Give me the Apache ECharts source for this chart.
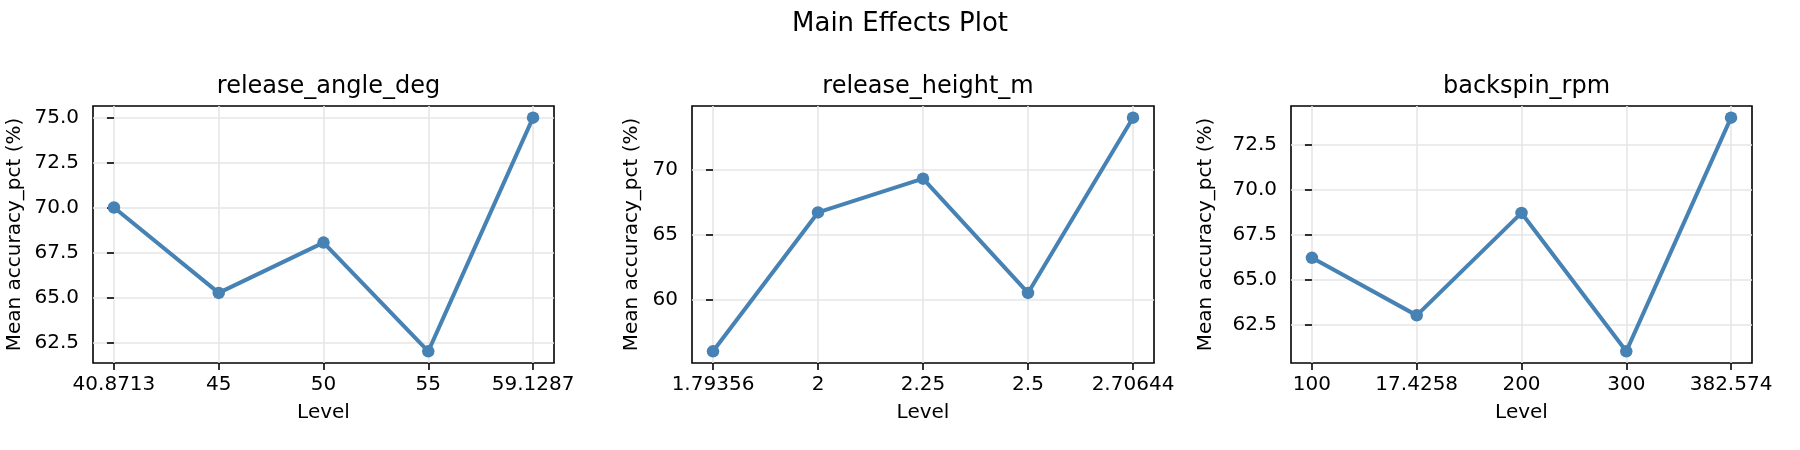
<!DOCTYPE html>
<html>
<head>
<meta charset="utf-8">
<script src="https://cdn.jsdelivr.net/npm/echarts@6/dist/echarts.min.js"></script>
<style>
html,body{margin:0;padding:0;background:#fff;}
#chart{width:1800px;height:450px;}
</style>
</head>
<body>
<div id="chart"></div>
<script>
// ---- data ----
const suptitle = 'Main Effects Plot';
const factorNames = ['release_angle_deg', 'release_height_m', 'backspin_rpm'];
const angleLevels = ['40.8713', '45', '50', '55', '59.1287'];
const angleMeans = [70.0, 65.25, 68.05, 62.0, 75.0];
const heightLevels = ['1.79356', '2', '2.25', '2.5', '2.70644'];
const heightMeans = [56.0, 66.7, 69.3, 60.5, 74.0];
const spinLevels = ['100', '17.4258', '200', '300', '382.574'];
const spinMeans = [66.2, 63.0, 68.7, 61.0, 74.0];
const angleYTicks = [62.5, 65.0, 67.5, 70.0, 72.5, 75.0];
const heightYTicks = [60, 65, 70];
const spinYTicks = [62.5, 65.0, 67.5, 70.0, 72.5];
const yLabel = 'Mean accuracy_pct (%)';
const xLabel = 'Level';

// ---- layout ----
const FONT = 'DejaVu Sans';
const panels = [
  {name: factorNames[0], levels: angleLevels, means: angleMeans, yTicks: angleYTicks, decimals: 1, left: 93, width: 461, nameGap: 68},
  {name: factorNames[1], levels: heightLevels, means: heightMeans, yTicks: heightYTicks, decimals: 0, left: 692, width: 462, nameGap: 50},
  {name: factorNames[2], levels: spinLevels, means: spinMeans, yTicks: spinYTicks, decimals: 1, left: 1291, width: 461, nameGap: 75}
];
const TOP = 106, HEIGHT = 257;

const option = {
  animation: false,
  backgroundColor: '#fff',
  textStyle: {fontFamily: FONT},
  title: [{
    text: suptitle, left: 'center', top: 6,
    textStyle: {fontFamily: FONT, fontSize: 26, fontWeight: 'normal', color: '#000'}
  }],
  grid: [], xAxis: [], yAxis: [], series: []
};

panels.forEach((p, i) => {
  const idx = p.levels.map((_, k) => k);
  const lo = Math.min(...p.means), hi = Math.max(...p.means);
  const pad = (hi - lo) * 0.05;
  const n = p.levels.length;
  option.title.push({
    text: p.name,
    left: p.left + p.width / 2, top: 70, textAlign: 'center',
    textStyle: {fontFamily: FONT, fontSize: 24, fontWeight: 'normal', color: '#000'}
  });
  option.grid.push({
    left: p.left, top: TOP, width: p.width, height: HEIGHT,
    show: true, borderColor: '#000', borderWidth: 1.6, backgroundColor: 'transparent'
  });
  option.xAxis.push({
    type: 'value', gridIndex: i,
    min: -0.05 * (n - 1), max: (n - 1) * 1.05,
    name: xLabel, nameLocation: 'middle', nameGap: 40,
    nameTextStyle: {fontFamily: FONT, fontSize: 20, color: '#000'},
    axisLine: {show: false},
    axisTick: {show: true, inside: false, length: 7, customValues: idx, lineStyle: {color: '#000', width: 1.6}},
    axisLabel: {show: true, customValues: idx, margin: 12, fontFamily: FONT, fontSize: 20, color: '#000',
      formatter: (v) => p.levels[Math.round(v)]},
    splitLine: {show: false}
  });
  option.yAxis.push({
    type: 'value', gridIndex: i,
    min: lo - pad, max: hi + pad,
    name: yLabel, nameLocation: 'middle', nameGap: p.nameGap, nameRotate: 90,
    nameTextStyle: {fontFamily: FONT, fontSize: 20, color: '#000'},
    axisLine: {show: false},
    axisTick: {show: true, inside: false, length: 7, customValues: p.yTicks, lineStyle: {color: '#000', width: 1.6}},
    axisLabel: {show: true, customValues: p.yTicks, margin: 14, fontFamily: FONT, fontSize: 20, color: '#000',
      formatter: (v) => v.toFixed(p.decimals)},
    splitLine: {show: false}
  });
  // grid lines (behind)
  option.series.push({
    type: 'line', xAxisIndex: i, yAxisIndex: i, data: [], z: 0, zlevel: 0, silent: true,
    markLine: {
      z: 0,
      silent: true, symbol: 'none', animation: false,
      label: {show: false},
      lineStyle: {color: '#e6e6e6', width: 1.6, type: 'solid'},
      emphasis: {disabled: true},
      data: p.yTicks.map(v => ({yAxis: v})).concat(idx.map(k => ({xAxis: k})))
    }
  });
  option.series.push({
    type: 'line', xAxisIndex: i, yAxisIndex: i, z: 10,
    data: p.means.map((v, k) => [k, v]),
    symbol: 'circle', symbolSize: 12.5, showSymbol: true,
    lineStyle: {color: '#4682b4', width: 4},
    itemStyle: {color: '#4682b4'},
    emphasis: {disabled: true}
  });
});

const chart = echarts.init(document.getElementById('chart'), null, {renderer: 'canvas'});
chart.setOption(option);
</script>
</body>
</html>
